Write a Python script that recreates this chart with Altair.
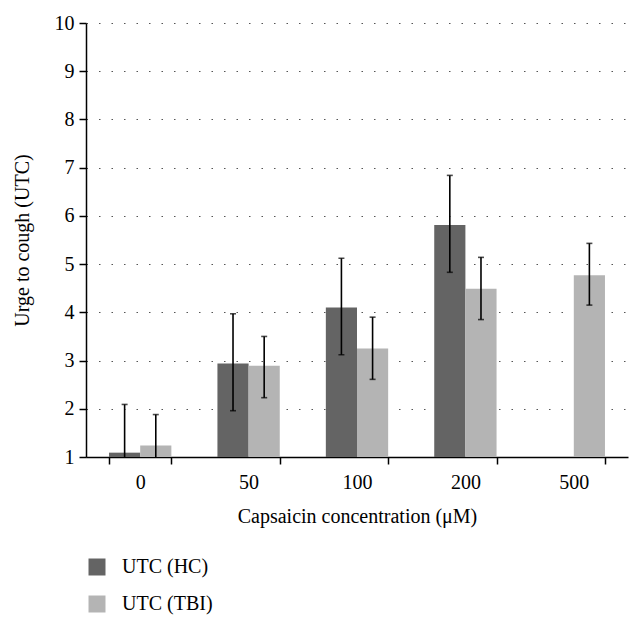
import altair as alt
import pandas as pd

cats = ["0", "50", "100", "200", "500"]
groups = ["UTC (HC)", "UTC (TBI)"]
hc_mean = [1.09, 2.94, 4.10, 5.81, None]
hc_upper = [2.09, 3.97, 5.12, 6.84, None]
hc_lower = [0.09, 1.96, 3.12, 4.83, None]
tbi_mean = [1.24, 2.89, 3.25, 4.49, 4.77]
tbi_upper = [1.88, 3.50, 3.90, 5.14, 5.43]
tbi_lower = [0.60, 2.23, 2.61, 3.85, 4.15]

rows = []
for i, c in enumerate(cats):
    rows.append({"cat": c, "group": groups[0], "mean": hc_mean[i], "lo": hc_lower[i], "hi": hc_upper[i]})
    rows.append({"cat": c, "group": groups[1], "mean": tbi_mean[i], "lo": tbi_lower[i], "hi": tbi_upper[i]})
df = pd.DataFrame(rows)

FONT = "Liberation Serif"
FS = 20

x = alt.X("cat:N", sort=cats, title="Capsaicin concentration (μM)",
          scale=alt.Scale(paddingInner=0.425, paddingOuter=0.2125),
          axis=alt.Axis(labelAngle=0, tickBand="extent", domainColor="black", tickColor="black",
                        tickSize=7, domainWidth=1.5, tickWidth=1.5, labelFontSize=FS,
                        titleFontSize=FS, labelPadding=8, titlePadding=14, grid=False))
y_scale = alt.Scale(domain=[1, 10], nice=False, zero=False)
xo = alt.XOffset("group:N", sort=groups)

bars = alt.Chart(df).mark_bar(clip=True).encode(
    x=x,
    xOffset=xo,
    y=alt.Y("mean:Q", scale=y_scale, title="Urge to cough (UTC)",
            axis=alt.Axis(values=list(range(1, 11)), tickColor="black", domainColor="black",
                          tickSize=7, domainWidth=1.5, tickWidth=1.5, labelFontSize=FS,
                          titleFontSize=FS, labelPadding=5, titlePadding=22,
                          grid=True, gridColor="#555555", gridDash=[1.5, 11], gridWidth=1.2)),
    y2=alt.datum(1),
    color=alt.Color("group:N", sort=groups,
                    scale=alt.Scale(domain=groups, range=["#646464", "#b4b4b4"]),
                    legend=alt.Legend(title=None, orient="none", legendX=1, legendY=534,
                                      symbolType="square", symbolSize=289, symbolStrokeWidth=0,
                                      labelFontSize=FS, labelOffset=15, rowPadding=17,
                                      padding=0, labelFont=FONT)),
)

rules = alt.Chart(df).mark_rule(color="black", strokeWidth=1.6, clip=True).encode(
    x=alt.X("cat:N", sort=cats), xOffset=xo, y=alt.Y("lo:Q", scale=y_scale), y2="hi:Q")
caps_hi = alt.Chart(df).mark_tick(color="black", size=6, thickness=1.6, clip=True).encode(
    x=alt.X("cat:N", sort=cats), xOffset=xo, y=alt.Y("hi:Q", scale=y_scale))
caps_lo = alt.Chart(df).mark_tick(color="black", size=6, thickness=1.6, clip=True).encode(
    x=alt.X("cat:N", sort=cats), xOffset=xo, y=alt.Y("lo:Q", scale=y_scale))

chart = alt.layer(bars, rules, caps_hi, caps_lo).properties(
    width=542, height=434,
    autosize=alt.AutoSizeParams(type="none"),
    padding={"left": 78, "top": 15, "right": 5, "bottom": 160},
).configure_view(stroke=None).configure_axis(
    labelFont=FONT, titleFont=FONT, labelColor="black", titleColor="black", titleFontWeight="normal"
).configure_legend(labelFont=FONT, labelColor="black")

chart.save("out.html", embed_options={"renderer": "svg", "actions": False})
